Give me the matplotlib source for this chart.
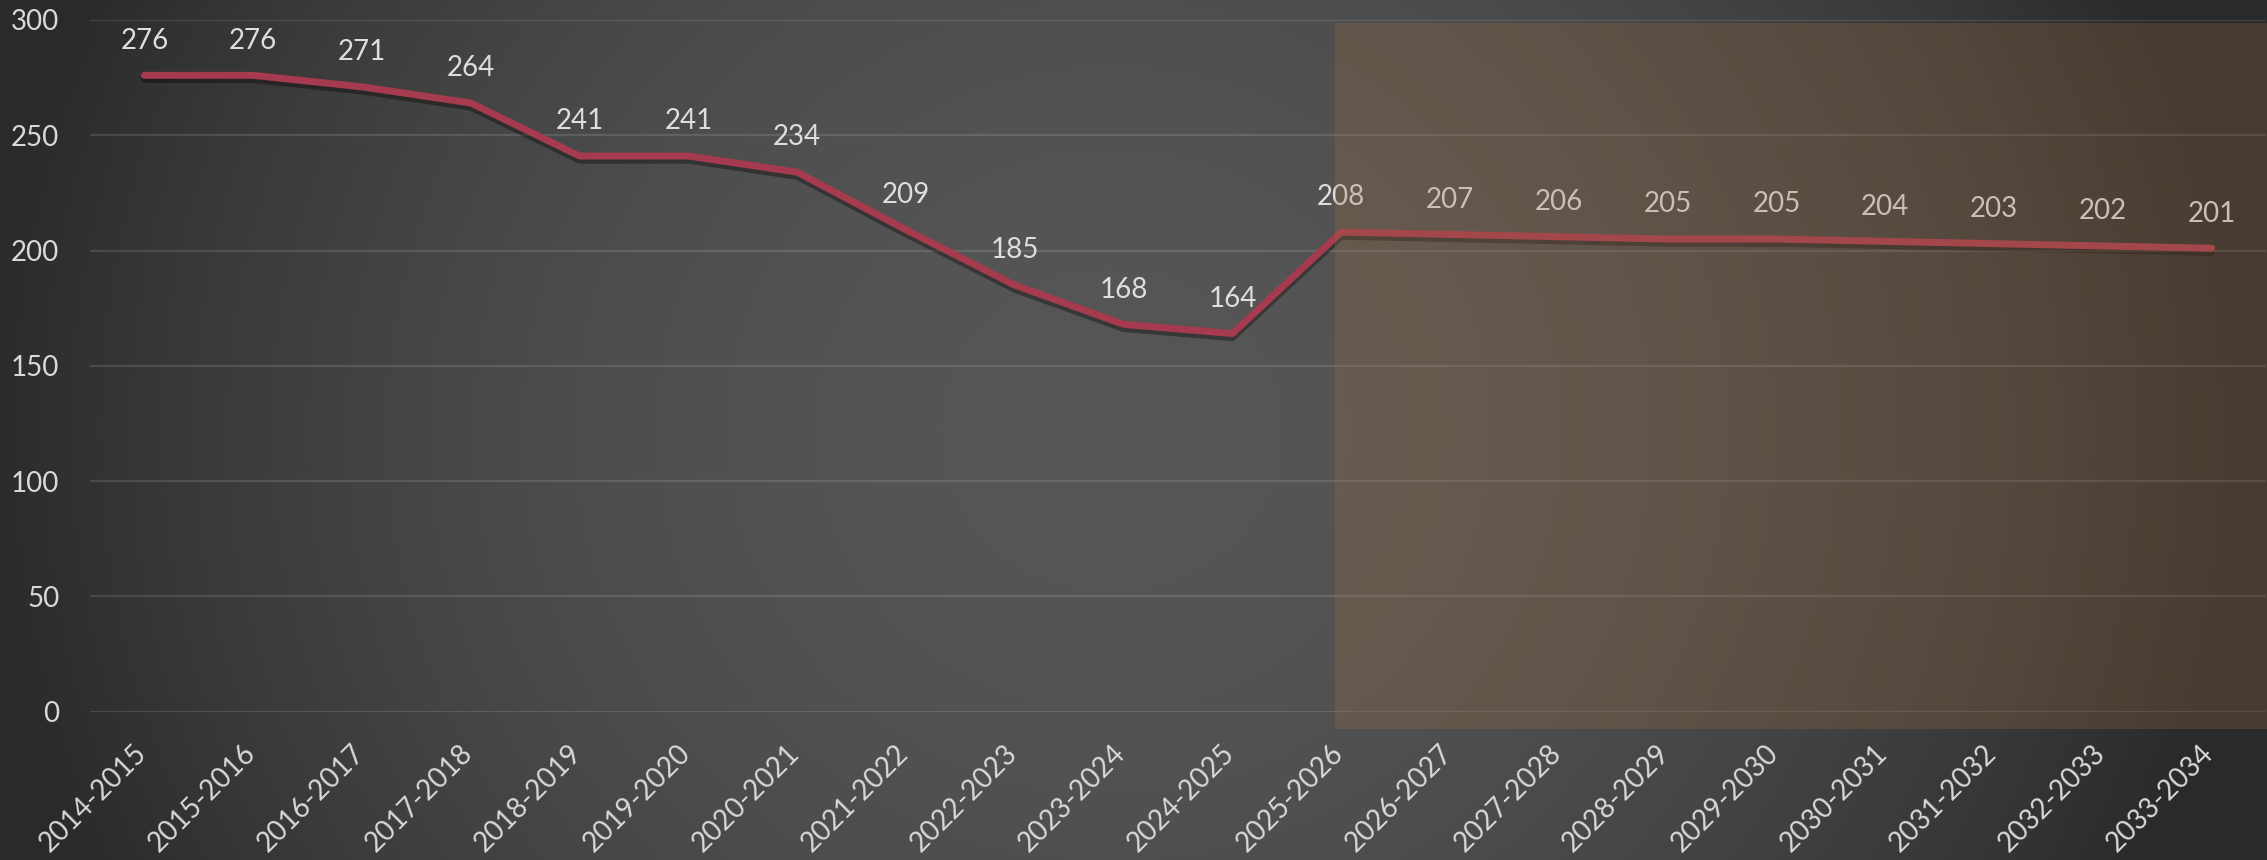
import numpy as np
import matplotlib
matplotlib.use("Agg")
import matplotlib.pyplot as plt
import matplotlib.patheffects as pe
from matplotlib.patches import Rectangle
from matplotlib.transforms import ScaledTranslation

plt.rcParams['font.family'] = ['Lato', 'DejaVu Sans']

seasons = ["2014-2015", "2015-2016", "2016-2017", "2017-2018", "2018-2019",
           "2019-2020", "2020-2021", "2021-2022", "2022-2023", "2023-2024",
           "2024-2025", "2025-2026", "2026-2027", "2027-2028", "2028-2029",
           "2029-2030", "2030-2031", "2031-2032", "2032-2033", "2033-2034"]
values = [276, 276, 271, 264, 241, 241, 234, 209, 185, 168,
          164, 208, 207, 206, 205, 205, 204, 203, 202, 201]
forecast_from = 11  # first projected season

W, H = 2267, 860
fig = plt.figure(figsize=(W / 100, H / 100), dpi=100)

# dark radial gradient background, lightest near the middle
bg = fig.add_axes([0, 0, 1, 1], zorder=-10)
yy, xx = np.mgrid[0:H, 0:W]
d2 = ((xx - 0.49 * W) / (0.5 * W)) ** 2 + ((yy - 0.5 * H) / (1.25 * H)) ** 2
shade = (86 - 44 * np.clip(d2, 0, 1)) / 255
bg.imshow(np.dstack([shade] * 3), aspect='auto', interpolation='bilinear')
bg.axis('off')

ax = fig.add_axes([90 / W, 148.3 / H, 2176 / W, 691.7 / H])
ax.set_facecolor('none')

x = np.arange(len(seasons))
ax.plot(x, values, color='#a63a4e', lw=5, solid_capstyle='round', zorder=3,
        path_effects=[pe.SimpleLineShadow(offset=(0, -3), alpha=0.35, shadow_color='black'),
                      pe.Normal()])

for i, v in enumerate(values):
    ax.annotate(str(v), (i, v), xytext=(0, 25), textcoords='offset points',
                ha='center', va='center', fontsize=20, color='#dedede', zorder=4)

# projection overlay
ax.add_patch(Rectangle((forecast_from - 0.06, -7.5), len(seasons) - forecast_from + 0.6, 306.2,
                       facecolor=(155 / 255, 108 / 255, 70 / 255), alpha=0.27,
                       edgecolor='none', zorder=5, clip_on=False))

ax.set_xlim(-0.5, len(seasons) - 0.5)
ax.set_ylim(0, 300)
ax.set_yticks(range(0, 301, 50))
ax.set_xticks(x)
ax.set_xticklabels(seasons, rotation=45, ha='right', va='center', rotation_mode='anchor')
ax.tick_params(axis='x', length=0, pad=27, labelsize=20, labelcolor='#d9d9d9')
ax.tick_params(axis='y', length=0, pad=22, labelsize=20, labelcolor='#d9d9d9')
for lbl in ax.get_xticklabels():
    lbl.set_transform(lbl.get_transform() + ScaledTranslation(-0.02, 0, fig.dpi_scale_trans))

ax.grid(axis='y', color='white', alpha=0.12, lw=1.6)
ax.grid(axis='x', visible=False)
for s in ax.spines.values():
    s.set_visible(False)

fig.savefig('out.png', dpi=100)
